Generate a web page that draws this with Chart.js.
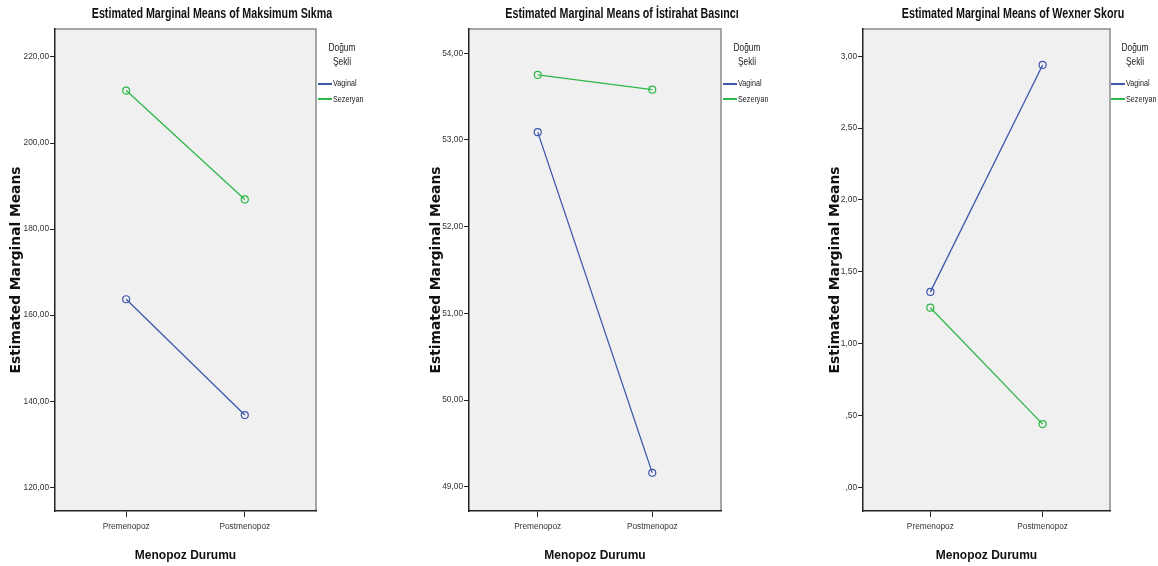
<!DOCTYPE html>
<html>
<head>
<meta charset="utf-8">
<script src="https://cdn.jsdelivr.net/npm/chart.js@4/dist/chart.umd.min.js"></script>
<style>
  body { margin: 0; background: #fff; }
  #wrap { position: relative; width: 1158px; height: 566px; background: #fff; overflow: hidden; }
  #wrap canvas { position: absolute; top: 0; }
  .ttl { position: absolute; top: 5px; width: 400px; text-align: center; white-space: nowrap;
         font: bold 14px "Liberation Sans", sans-serif; color: #111;
         transform: scaleX(0.765); transform-origin: 50% 50%; }
  .leg { position: absolute; top: 40px; font-family: "Liberation Sans", sans-serif; color: #222; }
  .leg .lt { font-size: 11px; line-height: 14px; text-align: center; width: 48px;
             transform: scaleX(0.76); transform-origin: 50% 50%; }
  .leg .it { font-size: 9px; line-height: 15.5px; white-space: nowrap; }
  .leg .sw { display: inline-block; width: 14px; height: 2px; vertical-align: middle; margin-right: 1px; }
  .leg .tx { display: inline-block; transform: scaleX(0.8); transform-origin: 0 50%; vertical-align: middle; }
</style>
</head>
<body>
<div id="wrap"></div>
<script>
// categories and series
var categories = ['Premenopoz', 'Postmenopoz'];
var seriesNames = ['Vaginal', 'Sezeryan'];
var legendTitle = ['Doğum', 'Şekli'];

// Maksimum Sıkma
var sikmaVaginal = [163.7, 136.8];
var sikmaSezeryan = [212.2, 186.9];
var sikmaTicks = [120, 140, 160, 180, 200, 220];

// İstirahat Basıncı
var basincVaginal = [53.09, 49.16];
var basincSezeryan = [53.75, 53.58];
var basincTicks = [49, 50, 51, 52, 53, 54];

// Wexner Skoru
var wexnerVaginal = [1.36, 2.94];
var wexnerSezeryan = [1.25, 0.44];
var wexnerTicks = [0, 0.5, 1, 1.5, 2, 2.5, 3];

var seriesColors = ['#3e58ac', '#2eb848'];

var panels = [
  { title: 'Estimated Marginal Means of Maksimum Sıkma', vals: [sikmaVaginal, sikmaSezeryan], ticks: sikmaTicks,
    min: 114.5, max: 226.5, left: 0, width: 390, padLeft: 8, plotLeft: 55, plotRight: 316, titleX: 212, legX: 318 },
  { title: 'Estimated Marginal Means of İstirahat Basıncı', vals: [basincVaginal, basincSezeryan], ticks: basincTicks,
    min: 48.72, max: 54.28, left: 390, width: 390, padLeft: 38, plotLeft: 79, plotRight: 331, titleX: 622, legX: 723 },
  { title: 'Estimated Marginal Means of Wexner Skoru', vals: [wexnerVaginal, wexnerSezeryan], ticks: wexnerTicks,
    min: -0.165, max: 3.19, left: 780, width: 378, padLeft: 47, plotLeft: 83, plotRight: 330, titleX: 1013, legX: 1111 }
];

// SPSS style numbers: comma decimal, no leading zero
function fmt(v) {
  var s = v.toFixed(2).replace('.', ',');
  if (s.indexOf('0,') === 0) s = s.slice(1);
  return s;
}

var plotFrame = {
  id: 'plotFrame',
  beforeDraw: function(chart) {
    var a = chart.chartArea, ctx = chart.ctx;
    ctx.save();
    ctx.fillStyle = '#f0f0f0';
    ctx.fillRect(a.left, a.top, a.right - a.left, a.bottom - a.top);
    ctx.strokeStyle = '#8a8a8a';
    ctx.lineWidth = 1.5;
    ctx.beginPath();
    ctx.moveTo(a.left, a.top);
    ctx.lineTo(a.right, a.top);
    ctx.lineTo(a.right, a.bottom);
    ctx.stroke();
    ctx.restore();
  }
};

var wrap = document.getElementById('wrap');
var H = 566, plotTop = 29, plotBottom = 511;
var tickFont = { family: '"Liberation Sans", Arial, sans-serif', size: 8.3 };

panels.forEach(function(p) {
  var cv = document.createElement('canvas');
  cv.width = p.width; cv.height = H;
  cv.style.left = p.left + 'px';
  wrap.appendChild(cv);

  var t = document.createElement('div');
  t.className = 'ttl';
  t.style.left = (p.titleX - 200) + 'px';
  t.textContent = p.title;
  wrap.appendChild(t);

  var lg = document.createElement('div');
  lg.className = 'leg';
  lg.style.left = p.legX + 'px';
  var html = '<div class="lt">' + legendTitle.join('<br>') + '</div><div style="height:8px"></div>';
  seriesNames.forEach(function(n, i) {
    html += '<div class="it"><span class="sw" style="background:' + seriesColors[i] + '"></span><span class="tx">' + n + '</span></div>';
  });
  lg.innerHTML = html;
  wrap.appendChild(lg);

  var datasets = seriesNames.map(function(n, s) {
    return {
      label: n,
      data: categories.map(function(c, i) { return { x: i, y: p.vals[s][i] }; }),
      borderColor: seriesColors[s],
      borderWidth: 1.3,
      pointRadius: 3.5,
      pointBorderWidth: 1.2,
      pointBorderColor: seriesColors[s],
      pointBackgroundColor: 'rgba(0,0,0,0)'
    };
  });

  new Chart(cv.getContext('2d'), {
    type: 'line',
    data: { datasets: datasets },
    plugins: [plotFrame],
    options: {
      responsive: false,
      animation: false,
      layout: { padding: { left: p.padLeft, top: plotTop, right: p.width - p.plotRight, bottom: 0 } },
      plugins: { legend: { display: false }, title: { display: false }, tooltip: { enabled: false } },
      scales: {
        x: {
          type: 'linear', min: -0.6, max: 1.6,
          afterBuildTicks: function(sc) { sc.ticks = categories.map(function(c, i) { return { value: i }; }); },
          afterFit: function(sc) { sc.height = H - plotBottom; },
          grid: { drawOnChartArea: false, drawTicks: true, tickLength: 6, tickColor: '#222' },
          border: { display: true, color: '#222', width: 1.5 },
          ticks: { padding: 5, color: '#333', font: tickFont,
                   callback: function(v) { return categories[v]; } },
          title: { display: true, text: 'Menopoz Durumu', color: '#111', padding: { top: 0, bottom: 3 },
                   font: { family: '"Liberation Sans", Arial, sans-serif', size: 12, weight: 'bold', lineHeight: 1.2 } }
        },
        y: {
          min: p.min, max: p.max,
          afterBuildTicks: function(sc) { sc.ticks = p.ticks.map(function(v) { return { value: v }; }); },
          afterFit: function(sc) { sc.width = p.plotLeft - p.padLeft; },
          grid: { drawOnChartArea: false, drawTicks: true, tickLength: 5, tickColor: '#222' },
          border: { display: true, color: '#222', width: 1.5 },
          ticks: { padding: 1, color: '#333', font: tickFont,
                   callback: function(v) { return fmt(v); } },
          title: { display: true, text: 'Estimated Marginal Means', color: '#111', padding: { top: 0, bottom: 0 },
                   font: { family: '"DejaVu Sans", sans-serif', size: 13.8, weight: 'bold', lineHeight: 1.2 } }
        }
      }
    }
  });
});
</script>
</body>
</html>
